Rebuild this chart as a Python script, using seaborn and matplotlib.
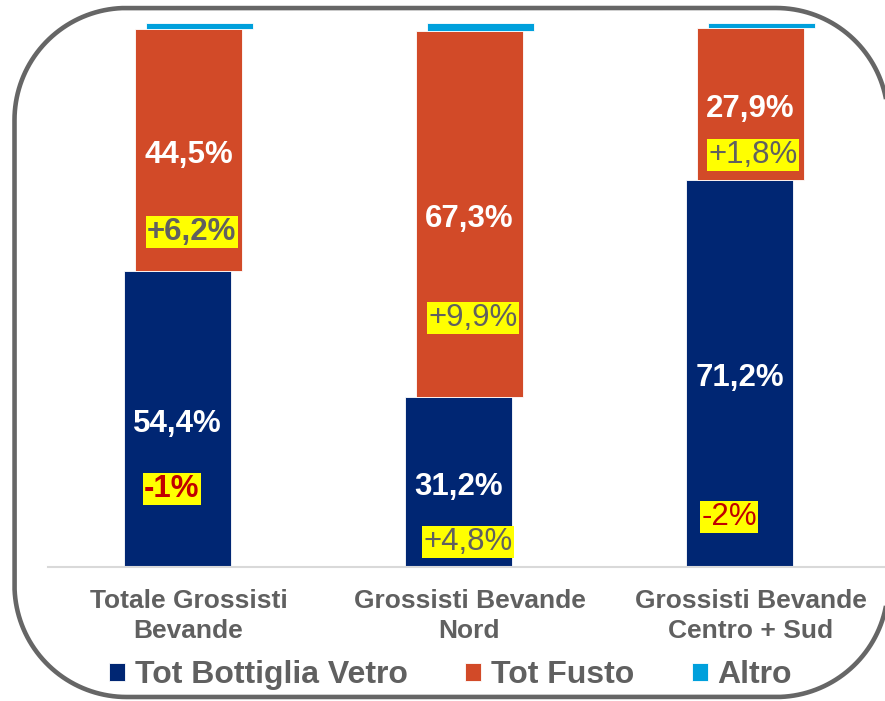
import matplotlib

matplotlib.use("Agg")
import matplotlib.pyplot as plt
import matplotlib.transforms as mtransforms
import numpy as np
import seaborn as sns
from matplotlib.patches import PathPatch
from matplotlib.path import Path

categories = ["Totale Grossisti\nBevande", "Grossisti Bevande\nNord", "Grossisti Bevande\nCentro + Sud"]
vetro = [54.4, 31.2, 71.2]
fusto = [44.5, 67.3, 27.9]
altro = [1.1, 1.5, 0.9]
vetro_labels = ["54,4%", "31,2%", "71,2%"]
fusto_labels = ["44,5%", "67,3%", "27,9%"]
var_vetro = ["-1%", "+4,8%", "-2%"]
var_fusto = ["+6,2%", "+9,9%", "+1,8%"]
series_names = ["Tot Bottiglia Vetro", "Tot Fusto", "Altro"]

# layout of the variation boxes (x offset from category, y in axis units)
var_vetro_pos = [(-0.059, 14.3), (-0.005, 4.6), (-0.076, 9.2)]
var_fusto_pos = [(0.012, 61.6), (0.012, 45.8), (0.009, 75.7)]
var_vetro_bold = [True, False, False]
var_fusto_bold = [True, False, False]

BLUE = "#002673"
ORANGE = "#D24A28"
LIGHT = "#00A0DC"
GRAY = "#606060"
RED = "#C00000"
BAR_W = 0.384
SHIFT = 0.039
LABEL_DY = -0.9

sns.set_theme(style="white")
plt.rcParams["font.family"] = ["Liberation Sans", "DejaVu Sans"]

fig = plt.figure(figsize=(8.85, 7.01), dpi=100)
ax = fig.add_axes([48 / 885, 134 / 701, 843 / 885, 544 / 701])


def draw_series(values, bottom, color, label, shift):
    n_before = len(ax.patches)
    sns.barplot(x=categories, y=values, bottom=bottom, color=color, width=BAR_W,
                errorbar=None, label=label, edgecolor="white", linewidth=0.6,
                saturation=1, ax=ax)
    for p in ax.patches[n_before:]:
        p.set_x(p.get_x() + shift)


base2 = [a + b for a, b in zip(vetro, fusto)]
draw_series(vetro, None, BLUE, series_names[0], -SHIFT)
draw_series(fusto, vetro, ORANGE, series_names[1], 0)
draw_series(altro, base2, LIGHT, series_names[2], SHIFT)
if ax.get_legend() is not None:
    ax.get_legend().remove()

ax.set_xlim(-0.5, 2.5)
ax.set_ylim(0, 100)
ax.set_yticks([])
ax.set_ylabel("")
for side in ["top", "left", "right"]:
    ax.spines[side].set_visible(False)
ax.spines["bottom"].set_color("#D9D9D9")
ax.spines["bottom"].set_linewidth(1.5)
ax.tick_params(axis="x", length=0, pad=16)
for lbl in ax.get_xticklabels():
    lbl.set_fontsize(19)
    lbl.set_fontweight("bold")
    lbl.set_color(GRAY)
    lbl.set_linespacing(1.3)

for i in range(3):
    ax.text(i - SHIFT, vetro[i] / 2 + LABEL_DY, vetro_labels[i], ha="center", va="center",
            color="white", fontsize=22.5, fontweight="bold")
    ax.text(i, vetro[i] + fusto[i] / 2 + LABEL_DY, fusto_labels[i], ha="center", va="center",
            color="white", fontsize=22.5, fontweight="bold")

    dx, y = var_vetro_pos[i]
    ax.text(i + dx, y, var_vetro[i], ha="center", va="center",
            color=RED if var_vetro[i].startswith("-") else GRAY, fontsize=22.5,
            fontweight="bold" if var_vetro_bold[i] else "normal",
            bbox=dict(boxstyle="square,pad=0.04", fc="#FFFF00", ec="none"))
    dx, y = var_fusto_pos[i]
    ax.text(i + dx, y, var_fusto[i], ha="center", va="center",
            color=RED if var_fusto[i].startswith("-") else GRAY, fontsize=22.5,
            fontweight="bold" if var_fusto_bold[i] else "normal",
            bbox=dict(boxstyle="square,pad=0.04", fc="#FFFF00", ec="none"))

handles, labels = ax.get_legend_handles_labels()
fig.legend(handles, labels, loc="center", bbox_to_anchor=(0.509, 0.037), ncol=3,
           frameon=False, prop={"weight": "bold", "size": 23}, labelcolor=GRAY,
           handlelength=0.5, handleheight=0.5, handletextpad=0.3,
           columnspacing=1.8, borderaxespad=0, borderpad=0)

# rounded frame in pixel coordinates with circular corners
x0, x1, y0, y1, r = 14.5, 888, 4, 693, 112
verts = []
for cx, cy, a0 in [(x1 - r, y1 - r, 0), (x0 + r, y1 - r, 90),
                   (x0 + r, y0 + r, 180), (x1 - r, y0 + r, 270)]:
    ang = np.radians(np.linspace(a0, a0 + 90, 40))
    verts += list(zip(cx + r * np.cos(ang), cy + r * np.sin(ang)))
verts.append(verts[0])
frame = PathPatch(Path(verts), transform=mtransforms.IdentityTransform(),
                  fc="none", ec="#666666", lw=3.3, clip_on=False)
fig.add_artist(frame)

fig.savefig("out.png", dpi=100)
